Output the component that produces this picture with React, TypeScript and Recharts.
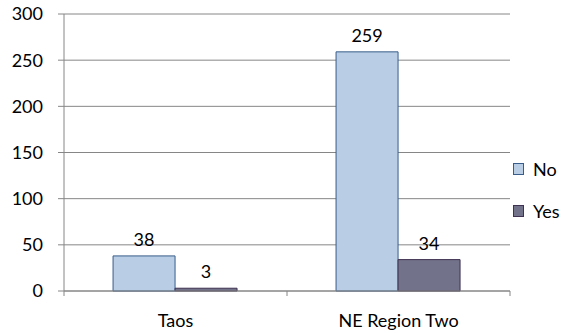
import { Bar, BarChart, CartesianGrid, LabelList, Legend, XAxis, YAxis } from "recharts"

const regions = ["Taos", "NE Region Two"]
const noCounts = [38, 259]
const yesCounts = [3, 34]
const yTicks = [0, 50, 100, 150, 200, 250, 300]

const data = regions.map((region, i) => ({ region, No: noCounts[i], Yes: yesCounts[i] }))

const FONT = "Lato, 'Liberation Sans', sans-serif"
const AXIS = "#868686"

// label plus the little tick marks that sit on the category boundaries
const CategoryTick = (props: any) => {
    const { x, y, payload, index } = props
    const half = payload.offset || 0
    return (
        <g>
            {index === 0 && <line x1={x - half} y1={y - 8} x2={x - half} y2={y - 3} stroke={AXIS} />}
            <line x1={x + half} y1={y - 8} x2={x + half} y2={y - 3} stroke={AXIS} />
            <text x={x} y={y + 15} dy="0.71em" textAnchor="middle" fill="#000" fontSize={18} fontFamily={FONT}>
                {payload.value}
            </text>
        </g>
    )
}

const LegendBox = () => (
    <div style={{ fontFamily: FONT, fontSize: 18, color: "#000", lineHeight: "22px" }}>
        <div style={{ display: "flex", alignItems: "center", height: 22, marginBottom: 20 }}>
            <span style={{ width: 9, height: 10, background: "#B9CDE5", border: "1px solid #385D8A", marginRight: 9 }} />
            No
        </div>
        <div style={{ display: "flex", alignItems: "center", height: 22 }}>
            <span style={{ width: 9, height: 10, background: "#72728A", border: "1px solid #3F3151", marginRight: 9 }} />
            Yes
        </div>
    </div>
)

const App = () => {
    return (
        <div style={{ position: "absolute", left: 0, top: 0, background: "#fff" }}>
            <BarChart
                width={563}
                height={333}
                data={data}
                margin={{ top: 14, right: 3, left: 0, bottom: 12 }}
                barGap={0}
                barCategoryGap="22%"
            >
                <CartesianGrid vertical={false} stroke={AXIS} />
                <XAxis
                    dataKey="region"
                    height={30}
                    axisLine={{ stroke: AXIS }}
                    tickLine={false}
                    tick={<CategoryTick />}
                    interval={0}
                />
                <YAxis
                    domain={[0, 300]}
                    ticks={yTicks}
                    width={64}
                    axisLine={{ stroke: AXIS }}
                    tickLine={{ stroke: AXIS }}
                    tickSize={6}
                    tickMargin={15}
                    tick={{ fill: "#000", fontSize: 18, fontFamily: FONT }}
                    interval={0}
                />
                <Legend
                    layout="vertical"
                    align="right"
                    verticalAlign="top"
                    content={<LegendBox />}
                    wrapperStyle={{ position: "absolute", left: 513, top: 158, width: 50 }}
                />
                <Bar dataKey="No" fill="#B9CDE5" stroke="#385D8A" isAnimationActive={false}>
                    <LabelList dataKey="No" position="top" offset={10} fill="#000" fontSize={18} fontFamily={FONT} />
                </Bar>
                <Bar dataKey="Yes" fill="#72728A" stroke="#3F3151" isAnimationActive={false}>
                    <LabelList dataKey="Yes" position="top" offset={10} fill="#000" fontSize={18} fontFamily={FONT} />
                </Bar>
            </BarChart>
        </div>
    )
}

export default App
